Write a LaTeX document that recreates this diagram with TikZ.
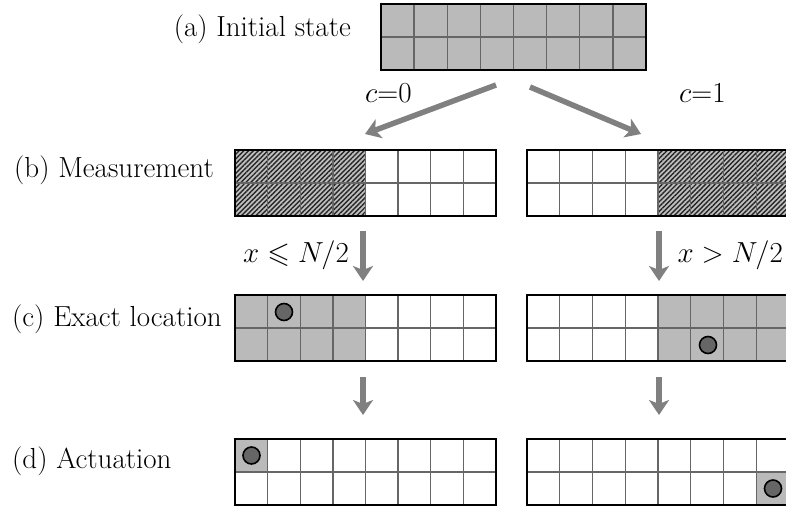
\RequirePackage{fix-cm}
\documentclass[tikz,border=0pt]{standalone}
\usepackage{amssymb}
\usetikzlibrary{arrows.meta,patterns.meta}
\newcommand\mygrid[4]{% x, y, width, height
  \begin{scope}[shift={(#1,#2)}]
    \foreach \i in {1,...,7} \draw[gridline] ({\i*#3/8},0) -- ({\i*#3/8},#4);
    \draw[gridline] (0,{#4/2}) -- (#3,{#4/2});
    \draw[border] (0,0) rectangle (#3,#4);
  \end{scope}}
\begin{document}
\begin{tikzpicture}[x=1pt,y=-1pt,
  every node/.style={font=\fontsize{29}{33}\selectfont, inner sep=0pt},
  gridline/.style={draw=black!60, line width=1.3pt},
  border/.style={draw=black, line width=2.6pt},
  cellfill/.style={fill=black!27},
  hatch/.style={pattern={Lines[angle=45,distance=3.4pt,line width=1.4pt]}, pattern color=black!85},
  dot/.style={fill=black!60, draw=black, line width=1.6pt},
  bigarrow/.style={draw=black!50, line width=5.5pt, -{Stealth[length=15pt,width=20pt,inset=4pt]}}]
\useasboundingbox (0,0) rectangle (786,510);
\clip (0,0) rectangle (786,510);
% (a)
\fill[cellfill] (381,4) rectangle ++(265,66);
\mygrid{381}{4}{265}{66}
% (b)
\fill[black!25] (235,150) rectangle ++(130.5,66);
\fill[hatch] (235,150) rectangle ++(130.5,66);
\mygrid{235}{150}{261}{66}
\fill[black!25] (658,150) rectangle ++(131,66);
\fill[hatch] (658,150) rectangle ++(131,66);
\mygrid{527}{150}{262}{66}
% (c)
\fill[cellfill] (235,295) rectangle ++(130.5,66);
\mygrid{235}{295}{261}{66}
\fill[cellfill] (658,295) rectangle ++(131,66);
\mygrid{527}{295}{262}{66}
% (d)
\fill[cellfill] (235,439) rectangle ++(32.6,33);
\mygrid{235}{439}{261}{66}
\fill[cellfill] (756.25,472) rectangle ++(32.75,33);
\mygrid{527}{439}{262}{66}
% dots
\draw[dot] (284,312) circle (8.5);
\draw[dot] (708,345) circle (8.5);
\draw[dot] (251.5,455.5) circle (8.5);
\draw[dot] (773,488.5) circle (8.5);
% labels
\node[anchor=base east] (la) at (351,37) {(a) Initial state};
\node[anchor=base west] (lb) at (14,178) {(b) Measurement};
\node[anchor=base west] (lc) at (12,326) {(c) Exact location};
\node[anchor=base west] (ld) at (12,468) {(d) Actuation};
\node[anchor=base west] (lc0) at (365,103) {$c{=}0$};
\node[anchor=base west] (lc1) at (679,103) {$c{=}1$};
\node[anchor=base west] (lx1) at (243,262) {$x \leqslant N/2$};
\node[anchor=base east] (lx2) at (783,262) {$x > N/2$};
% arrows
\coordinate (s0) at (496,85);  \coordinate (e0) at (365,134);
\coordinate (s1) at (530,87);  \coordinate (e1) at (641,134);
\coordinate (s2) at (363,231); \coordinate (e2) at (363,281);
\coordinate (s3) at (659,231); \coordinate (e3) at (659,281);
\coordinate (s4) at (363,377); \coordinate (e4) at (363,415);
\coordinate (s5) at (659,377); \coordinate (e5) at (659,415);
\draw[bigarrow] (s0) -- (e0);
\draw[bigarrow] (s1) -- (e1);
\draw[bigarrow] (s2) -- (e2);
\draw[bigarrow] (s3) -- (e3);
\draw[bigarrow] (s4) -- (e4);
\draw[bigarrow] (s5) -- (e5);
\end{tikzpicture}
\end{document}
